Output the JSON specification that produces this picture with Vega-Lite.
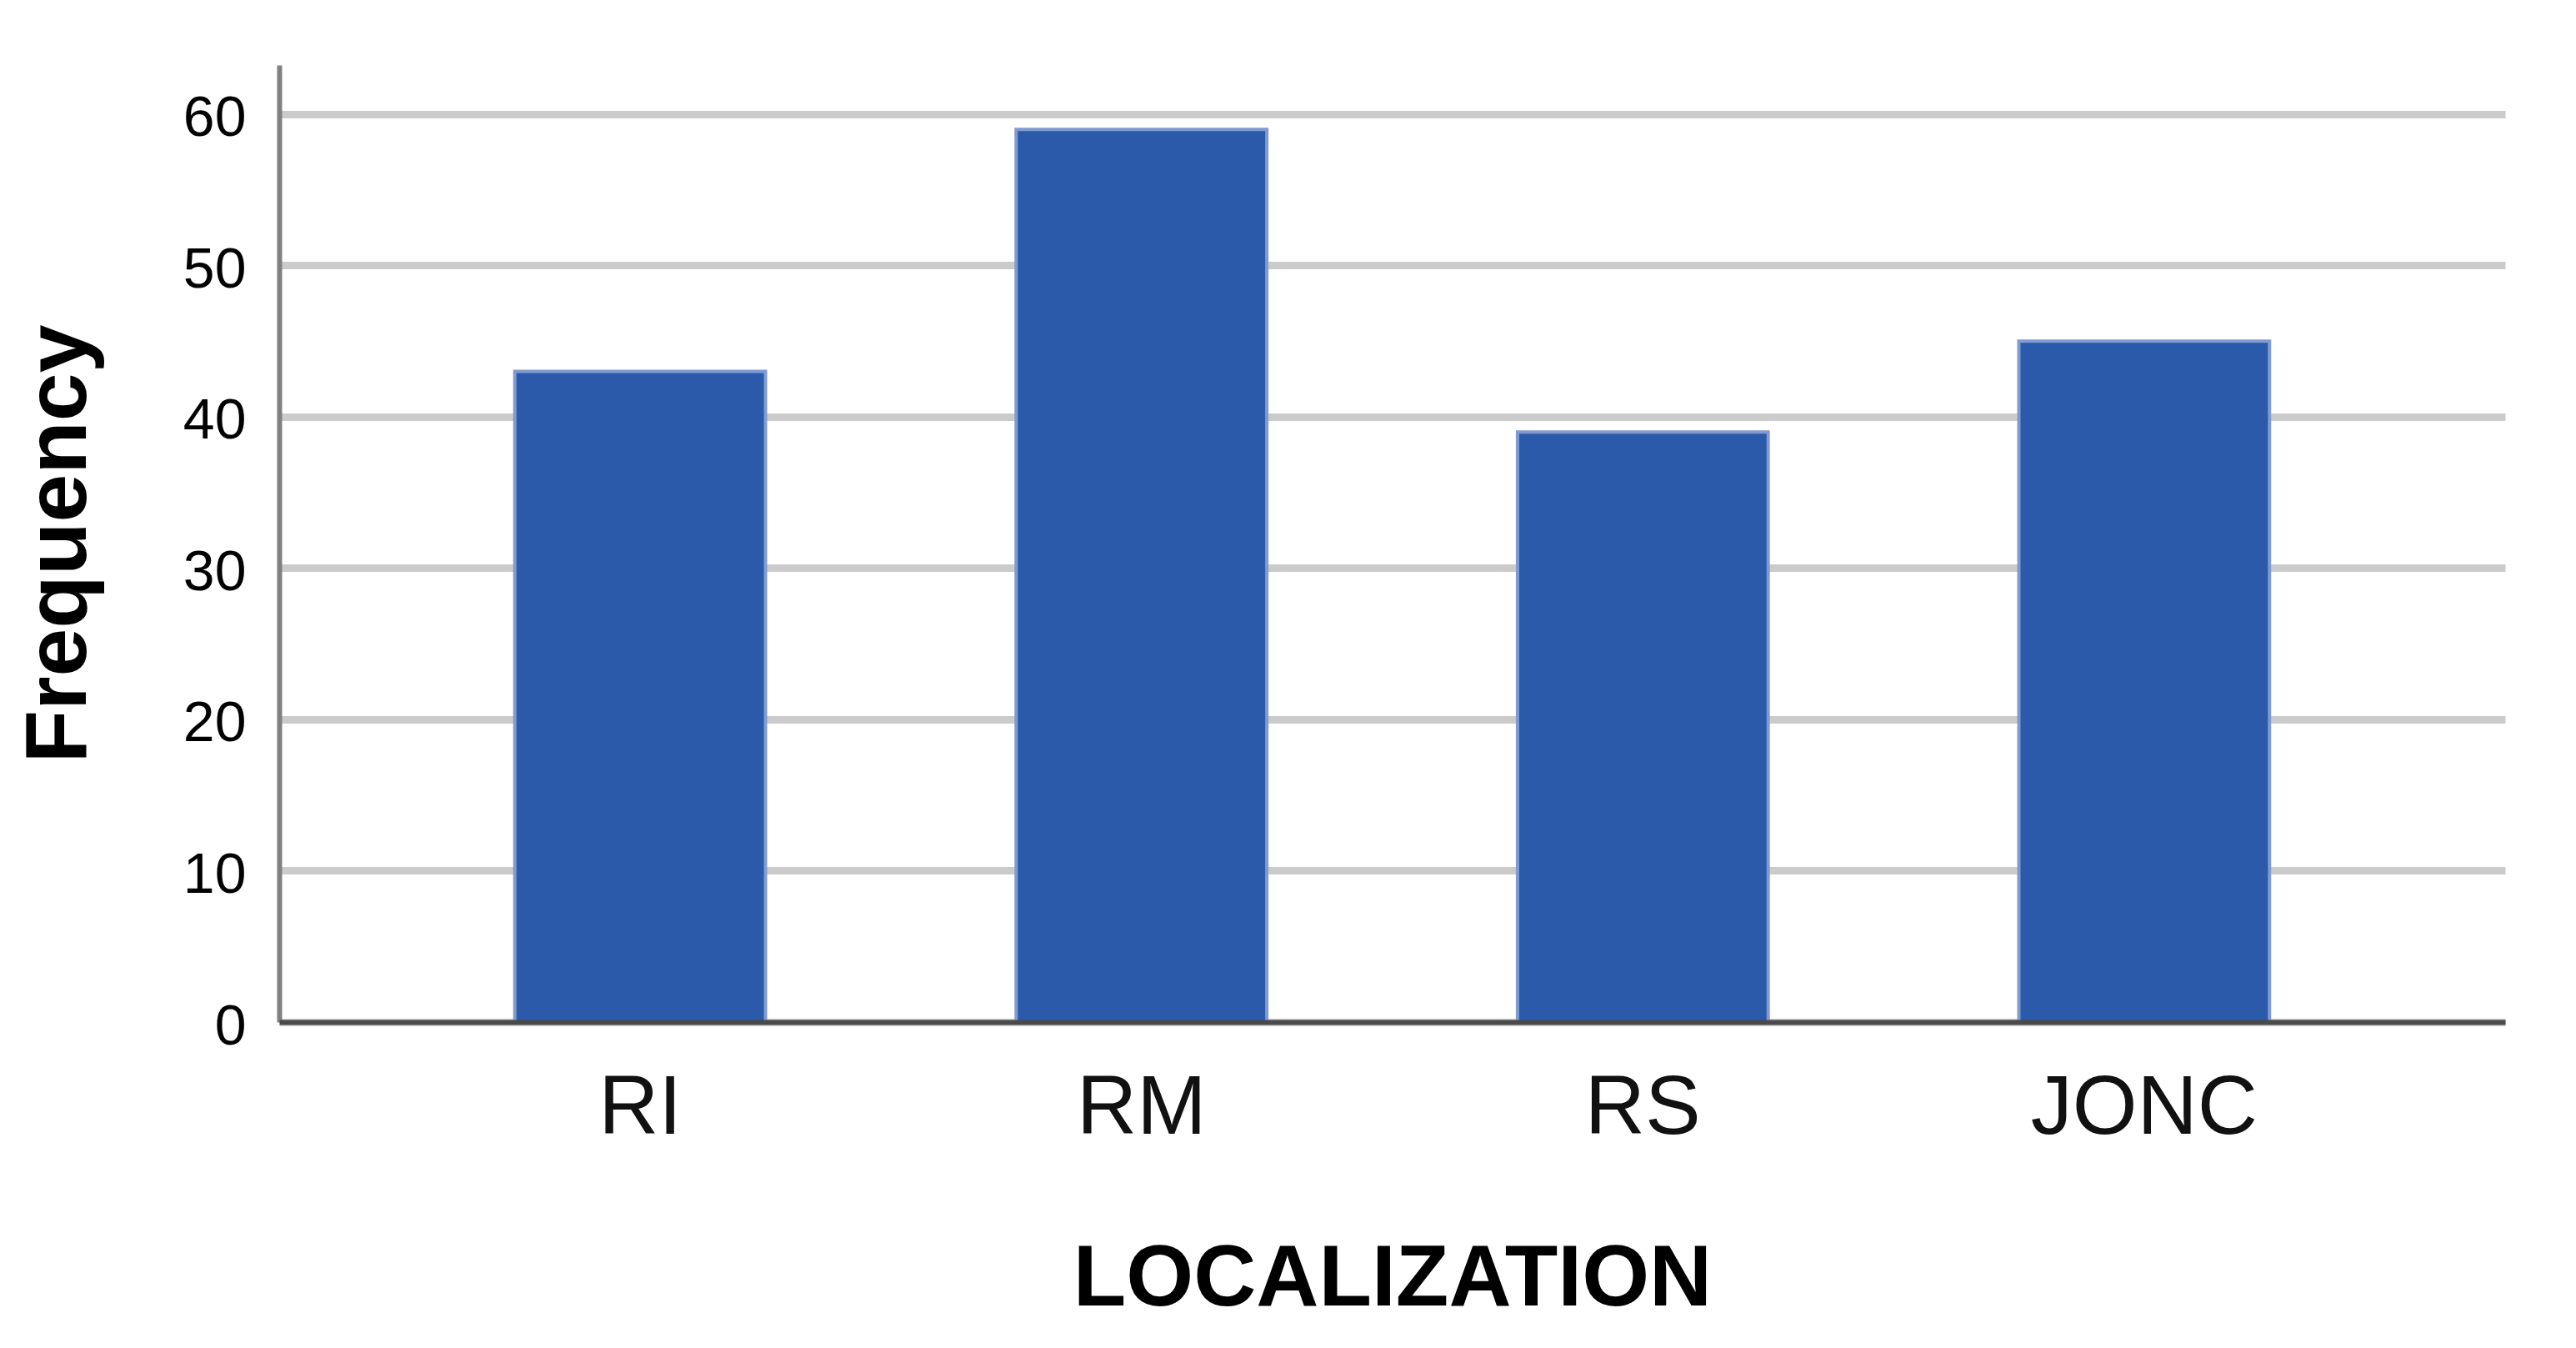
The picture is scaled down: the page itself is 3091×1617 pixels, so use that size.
{
  "$schema": "https://vega.github.io/schema/vega-lite/v6.json",
  "autosize": {"type": "none"},
  "padding": {"left": 335, "top": 78, "right": 85, "bottom": 391},
  "width": 2671,
  "height": 1148,
  "background": "white",
  "config": {"view": {"stroke": null}},
  "data": {"values": [
    {"LOCALIZATION": "RI", "Frequency": 43},
    {"LOCALIZATION": "RM", "Frequency": 59},
    {"LOCALIZATION": "RS", "Frequency": 39},
    {"LOCALIZATION": "JONC", "Frequency": 45}
  ]},
  "mark": {"type": "bar", "color": "#2B5AAB", "stroke": "#7f9bd0", "strokeWidth": 4},
  "encoding": {
    "x": {
      "field": "LOCALIZATION", "type": "nominal", "sort": ["RI", "RM", "RS", "JONC"],
      "scale": {"paddingInner": 0.5, "paddingOuter": 0.47},
      "axis": {
        "title": "LOCALIZATION", "labelAngle": 0, "ticks": false, "labelLimit": 0,
        "labelFont": "Liberation Sans", "labelFontSize": 100, "labelColor": "#111111", "labelPadding": 54,
        "titleFont": "Liberation Sans", "titleFontSize": 104, "titleFontWeight": "bold", "titleColor": "#000000", "titlePadding": 104,
        "domainColor": "#4a4a4a", "domainWidth": 6, "zindex": 1
      }
    },
    "y": {
      "field": "Frequency", "type": "quantitative",
      "scale": {"domain": [0, 63.25], "nice": false},
      "axis": {
        "title": "Frequency", "values": [0, 10, 20, 30, 40, 50, 60], "ticks": false,
        "labelFont": "Liberation Sans", "labelFontSize": 68, "labelColor": "#000000", "labelPadding": 40, "labelOffset": 6,
        "titleFont": "Liberation Sans", "titleFontSize": 104, "titleFontWeight": "bold", "titleColor": "#000000", "titlePadding": 95,
        "domainColor": "#808080", "domainWidth": 6,
        "grid": true, "gridColor": "#cbcbcb", "gridWidth": 9
      }
    }
  }
}
